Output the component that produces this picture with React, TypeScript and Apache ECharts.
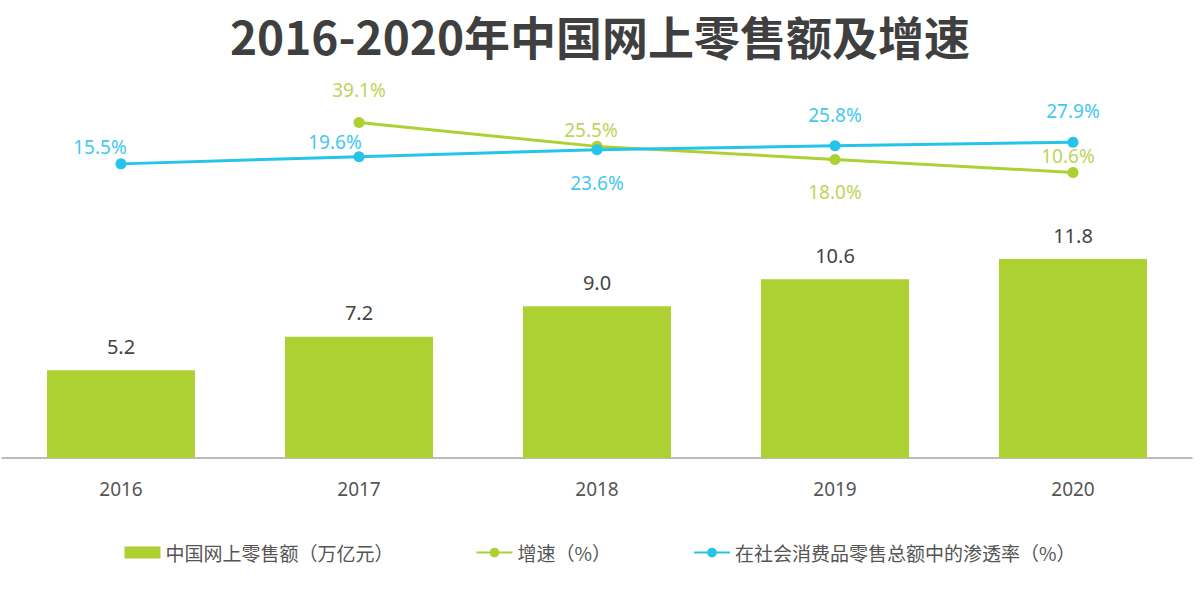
import React, { useEffect, useRef } from "react";
import * as echarts from "echarts";

const years = ["2016", "2017", "2018", "2019", "2020"];
const salesValues = [5.2, 7.2, 9.0, 10.6, 11.8];
const growthValues: (number | null)[] = [null, 39.1, 25.5, 18.0, 10.6];
const penetrationValues = [15.5, 19.6, 23.6, 25.8, 27.9];

const seriesNames = ["中国网上零售额（万亿元）", "增速（%）", "在社会消费品零售总额中的渗透率（%）"];
const titleText = "2016-2020年中国网上零售额及增速";

const GREEN = "#add032";
const GREEN_LABEL = "#bcd55a";
const BLUE = "#26c3ea";
const BLUE_LABEL = "#45c8ee";

const growthLabelPos = [
  null,
  { position: "top", distance: 18 },
  { position: "top", distance: 1, offset: [-6, 0] },
  { position: "bottom", distance: 17 },
  { position: "top", distance: 1, offset: [-5, 0] },
];
const penLabelPos = [
  { position: "top", distance: 2, offset: [-21, 0] },
  { position: "top", distance: 0, offset: [-24, 0] },
  { position: "bottom", distance: 18 },
  { position: "top", distance: 16 },
  { position: "top", distance: 16 },
];

export default function App() {
  const ref = useRef<HTMLDivElement>(null);
  useEffect(() => {
    const chart = echarts.init(ref.current!, null, { renderer: "svg" });
    const font = "'Noto Sans', 'Noto Sans CJK SC', sans-serif";
    chart.setOption({
      animation: false,
      backgroundColor: "#ffffff",
      textStyle: { fontFamily: font },
      title: {
        text: titleText,
        left: "center",
        top: 4,
        textStyle: {
          fontFamily: "'Noto Sans CJK SC', sans-serif",
          fontSize: 46,
          lineHeight: 52,
          fontWeight: "bold",
          color: "#3f3f3f",
        },
      },
      legend: {
        top: 538,
        left: "center",
        itemWidth: 36,
        itemHeight: 12,
        itemGap: 82,
        textStyle: { fontSize: 19, color: "#555555", fontFamily: "'Noto Sans CJK SC', sans-serif" },
        data: [
          { name: seriesNames[0], icon: "rect" },
          { name: seriesNames[1] },
          { name: seriesNames[2] },
        ],
      },
      grid: [
        { left: 2, right: 8, top: 222, bottom: 131 },
        { left: 2, right: 8, top: 100, bottom: 398 },
      ],
      xAxis: [
        {
          type: "category",
          gridIndex: 0,
          data: years,
          axisLine: { lineStyle: { color: "#a6a6a6", width: 1.5 } },
          axisTick: { show: false },
          axisLabel: { color: "#555555", fontSize: 19, margin: 21 },
        },
        {
          type: "category",
          gridIndex: 1,
          data: years,
          show: false,
        },
      ],
      yAxis: [
        { type: "value", gridIndex: 0, min: 0, max: 14, show: false, splitLine: { show: false } },
        { type: "value", gridIndex: 1, min: 0, max: 52, show: false, splitLine: { show: false } },
      ],
      series: [
        {
          name: seriesNames[0],
          type: "bar",
          xAxisIndex: 0,
          yAxisIndex: 0,
          data: salesValues,
          barWidth: 148,
          itemStyle: { color: GREEN },
          label: {
            show: true,
            position: "top",
            distance: 14,
            color: "#444444",
            fontSize: 20,
            formatter: (p: any) => p.value.toFixed(1),
          },
        },
        {
          name: seriesNames[1],
          type: "line",
          xAxisIndex: 1,
          yAxisIndex: 1,
          symbol: "circle",
          symbolSize: 11,
          lineStyle: { color: GREEN, width: 3 },
          itemStyle: { color: GREEN },
          data: growthValues.map((v, i) =>
            v === null
              ? "-"
              : {
                  value: v,
                  label: {
                    show: true,
                    color: GREEN_LABEL,
                    fontSize: 19,
                    formatter: v.toFixed(1) + "%",
                    ...(growthLabelPos[i] as any),
                  },
                }
          ),
        },
        {
          name: seriesNames[2],
          type: "line",
          xAxisIndex: 1,
          yAxisIndex: 1,
          symbol: "circle",
          symbolSize: 11,
          lineStyle: { color: BLUE, width: 3 },
          itemStyle: { color: BLUE },
          data: penetrationValues.map((v, i) => ({
            value: v,
            label: {
              show: true,
              color: BLUE_LABEL,
              fontSize: 19,
              formatter: v.toFixed(1) + "%",
              ...(penLabelPos[i] as any),
            },
          })),
        },
      ],
    });
    return () => chart.dispose();
  }, []);
  return (
    <div
      ref={ref}
      style={{ position: "fixed", left: 0, top: 0, width: 1200, height: 589 }}
    />
  );
}
